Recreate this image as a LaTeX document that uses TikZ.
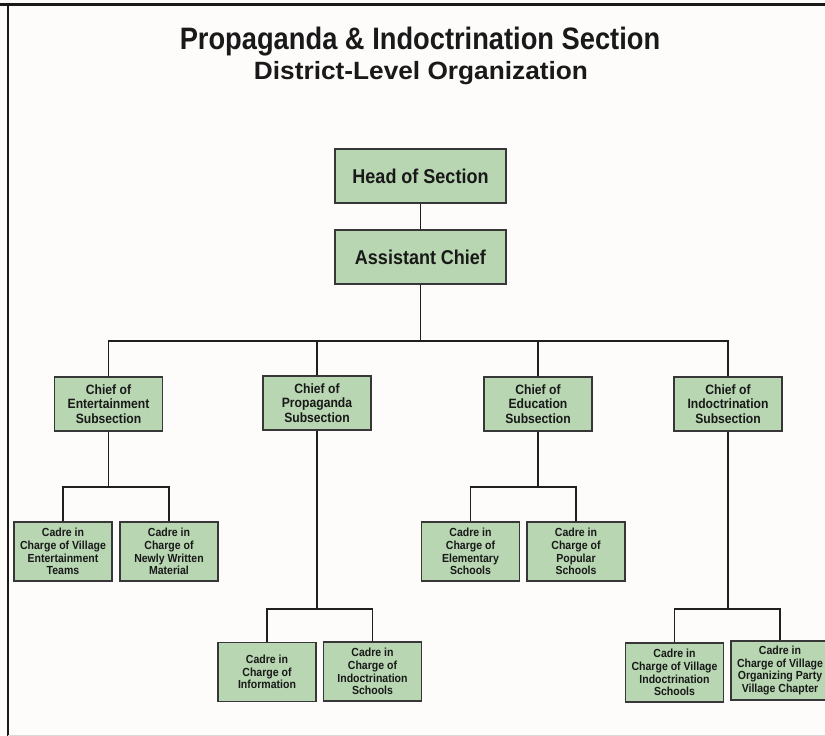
\documentclass[tikz,border=0pt]{standalone}
\usepackage{fontspec}
\setmainfont{Liberation Sans}
\newfontfamily\tallsans[FakeStretch=0.9]{Liberation Sans}
\newfontfamily\titlesans[FakeStretch=0.88]{Liberation Sans}
\newfontfamily\subsans[FakeStretch=1.05]{Liberation Sans}
\definecolor{boxfill}{RGB}{183,214,177}
\definecolor{boxline}{RGB}{55,55,55}
\definecolor{bg}{RGB}{253,252,250}
\definecolor{txt}{RGB}{25,25,25}
\tikzset{
  topbox/.style={draw=boxline, fill=boxfill, line width=1.4pt, minimum width=171pt, minimum height=54pt, inner sep=0pt, align=center, text=txt, font=\tallsans\bfseries\fontsize{20}{23}\selectfont},
  midbox/.style={draw=boxline, fill=boxfill, line width=1.3pt, minimum width=108pt, minimum height=54pt, inner sep=0pt, align=center, text=txt, font=\tallsans\bfseries\fontsize{13.5}{14.6}\selectfont},
  lowbox/.style={draw=boxline, fill=boxfill, line width=1.3pt, minimum width=98pt, minimum height=59pt, inner sep=0pt, align=center, text=txt, font=\tallsans\bfseries\fontsize{11.7}{12.8}\selectfont},
  conn/.style={draw=black!88, line width=1.8pt},
}
\begin{document}
\begin{tikzpicture}[x=1pt,y=-1pt]
\useasboundingbox (0,0) rectangle (825,736);
\clip (0,0) rectangle (825,736);
\fill[bg] (0,0) rectangle (825,736);
% frame
\draw[black!90, line width=3pt] (0,4) -- (825,4);
\draw[black!90, line width=2.5pt] (8,4) -- (8,736);
\draw[black!15, line width=1pt] (8,735) -- (825,735);
% titles
\node[text=txt, font=\titlesans\bfseries\fontsize{31}{34}\selectfont] (title) at (420,42) {Propaganda \& Indoctrination Section};
\node[text=txt, font=\subsans\bfseries\fontsize{25}{28}\selectfont] (subtitle) at (421,73) {District-Level Organization};
% top
\node[topbox] (head) at (420.5,176) {Head of Section};
\node[topbox] (asst) at (420.5,257) {Assistant Chief};
% level 2
\node[midbox] (ent) at (108.5,404) {Chief of\\Entertainment\\Subsection};
\node[midbox] (prop) at (317,403) {Chief of\\Propaganda\\Subsection};
\node[midbox] (edu) at (538,404) {Chief of\\Education\\Subsection};
\node[midbox] (ind) at (728,404) {Chief of\\Indoctrination\\Subsection};
% level 3
\node[lowbox] (c1) at (63,551.5) {Cadre in\\Charge of Village\\Entertainment\\Teams};
\node[lowbox] (c2) at (169,551.5) {Cadre in\\Charge of\\Newly Written\\Material};
\node[lowbox] (c3) at (267,672) {Cadre in\\Charge of\\Information};
\node[lowbox] (c4) at (372.5,671.5) {Cadre in\\Charge of\\Indoctrination\\Schools};
\node[lowbox] (c5) at (470.5,551.5) {Cadre in\\Charge of\\Elementary\\Schools};
\node[lowbox] (c6) at (576,551.5) {Cadre in\\Charge of\\Popular\\Schools};
\node[lowbox] (c7) at (674.5,672.5) {Cadre in\\Charge of Village\\Indoctrination\\Schools};
\node[lowbox] (c8) at (780,670.5) {Cadre in\\Charge of Village\\Organizing Party\\Village Chapter};
% bus coordinates
\coordinate (b1) at (420.5,341);
\coordinate (b2) at (108.5,487);
\coordinate (b3) at (317,609);
\coordinate (b4) at (538,487);
\coordinate (b5) at (728,609);
% connectors
\draw[conn] (head.south) -- (asst.north);
\draw[conn] (asst.south) -- (b1);
\draw[conn] (ent.north) |- (b1);
\draw[conn] (prop.north) |- (b1);
\draw[conn] (edu.north) |- (b1);
\draw[conn] (ind.north) |- (b1);
\draw[conn] (ent.south) -- (b2);
\draw[conn] (c1.north) |- (b2);
\draw[conn] (c2.north) |- (b2);
\draw[conn] (prop.south) -- (b3);
\draw[conn] (c3.north) |- (b3);
\draw[conn] (c4.north) |- (b3);
\draw[conn] (edu.south) -- (b4);
\draw[conn] (c5.north) |- (b4);
\draw[conn] (c6.north) |- (b4);
\draw[conn] (ind.south) -- (b5);
\draw[conn] (c7.north) |- (b5);
\draw[conn] (c8.north) |- (b5);
\end{tikzpicture}
\end{document}
